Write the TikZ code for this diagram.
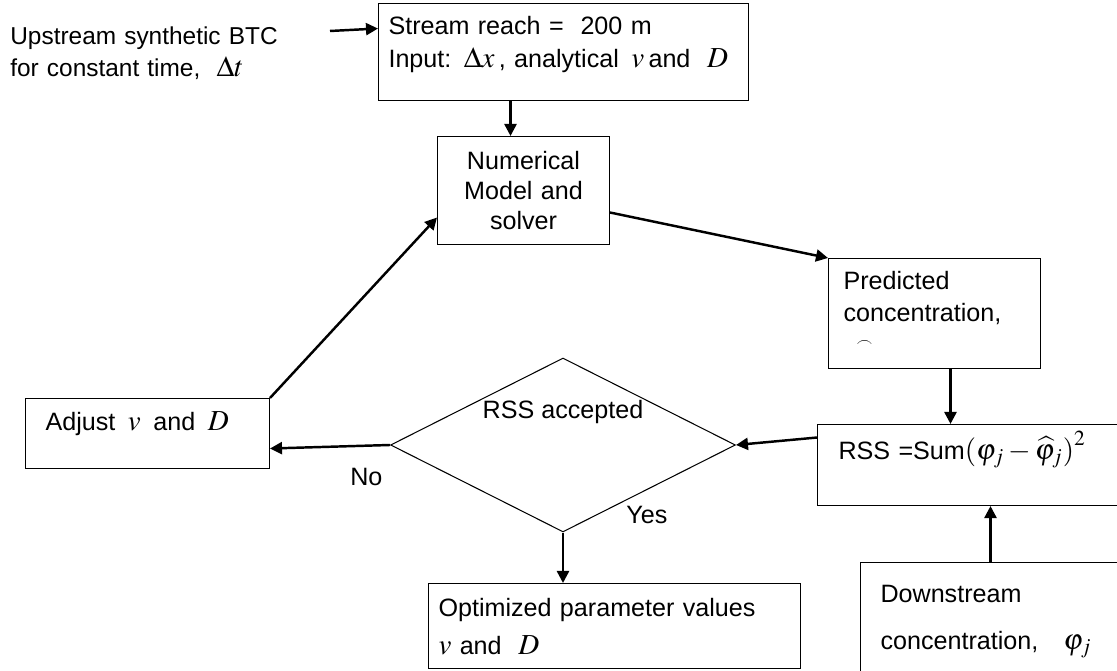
\documentclass[tikz,border=0pt]{standalone}
\usepackage{amsmath}
\usepackage{mathptmx}
\usepackage[no-math]{fontspec}
\setmainfont{Liberation Sans}
\usepackage{tikz}
\usetikzlibrary{arrows.meta,calc,positioning,shapes.geometric}
\newcommand{\eqv}[1]{{\fontsize{16.5}{17}\selectfont$#1$}}

\begin{document}
\begin{tikzpicture}[x=0.02cm,y=-0.02cm,font=\fontsize{14.3}{17}\selectfont,
  box/.style={draw,line width=0.6pt,rectangle,inner ysep=0pt,align=left,anchor=north west},
  decision/.style={draw,line width=0.6pt,diamond,aspect=2,inner sep=0pt},
  arr/.style={line width=1.4pt,-{Triangle[length=0.24cm,width=0.24cm]}}]
  \useasboundingbox (0,0) rectangle (1117,671);
  \clip (0,0) rectangle (1117,671);
  % upstream input and model
  \node[anchor=base west,align=left,inner sep=0pt,text width=7cm,font=\fontsize{13.9}{18}\selectfont] (upstream) at (10,45)
    {Upstream synthetic BTC\\for constant time, \ \eqv{\Delta t}};
  \node[box,text width=7.0cm,inner xsep=0.2cm,text height=0.62cm,text depth=1.32cm] (input) at (378,3)
    {Stream reach = \ 200 m\\[1.6pt]Input: \eqv{\Delta x}\,, analytical \,\eqv{v}\,and \ \eqv{D}};
  \node[box,align=center,text width=3.04cm,inner xsep=0.2cm,text height=0.66cm,text depth=1.5cm] (numerical) at (437,136)
    {Numerical\\Model and\\solver};
  \node[box,text width=3.64cm,inner xsep=0.3cm,text height=0.62cm,text depth=1.58cm] (predicted) at (828,258)
    {Predicted\\[1.2pt]concentration,\\[-3pt]\hspace*{0.26cm}{\small$\frown$}};
  % residual check
  \node[box,text width=5.42cm,inner xsep=0.42cm,text height=0.7cm,text depth=0.92cm] (rss) at (817,424)
    {RSS =Sum\eqv{\left(\varphi_j-\widehat{\varphi}_j\right)^2}};
  \node[box,text width=4.6cm,inner xsep=0.4cm,text height=0.8cm,text depth=1.76cm] (downstream) at (860,562)
    {Downstream\\[9.7pt]concentration,\quad\eqv{\varphi_j}};
  \node[decision,minimum width=6.9cm,minimum height=3.48cm,text height=0.3cm,text depth=1.34cm] (decide) at (563,445) {RSS accepted};
  \node[box,text width=4.08cm,inner xsep=0.4cm,text height=0.64cm,text depth=0.76cm] (adjust) at (25,398)
    {Adjust\ \,\eqv{v}\ \,and\ \,\eqv{D}};
  \node[box,text width=7.04cm,inner xsep=0.2cm,text height=0.66cm,text depth=1.04cm] (optimized) at (428,583)
    {Optimized parameter values\\[4.5pt]\eqv{v} and\ \ \eqv{D}};
  \node[anchor=base west,inner sep=0pt] (no) at (350,486) {No};
  \node[anchor=base west,inner sep=0pt] (yes) at (626,524) {Yes};
  % connectors
  \coordinate (feed) at (330,31);
  \draw[arr] (feed) -- ([yshift=0.47cm]input.west);
  \draw[arr] ([xshift=-0.26cm]numerical.north |- input.south) -- ([xshift=-0.26cm]numerical.north);
  \draw[arr] ([yshift=-0.44cm]numerical.east) -- (predicted.north west);
  \draw[arr] ([xshift=0.32cm]predicted.south) -- ([xshift=0.32cm]predicted.south |- rss.north);
  \draw[arr] ([xshift=-0.1cm]downstream.north) -- ([xshift=-0.1cm]downstream.north |- rss.south);
  \draw[arr] ([yshift=0.55cm]rss.west) -- (decide.east);
  \draw[arr] (decide.west) -- ([yshift=-0.3cm]adjust.east);
  \draw[arr] (adjust.north east) -- ([yshift=-0.54cm]numerical.west);
  \draw[arr] (decide.south) -- (decide.south |- optimized.north);
\end{tikzpicture}
\end{document}
